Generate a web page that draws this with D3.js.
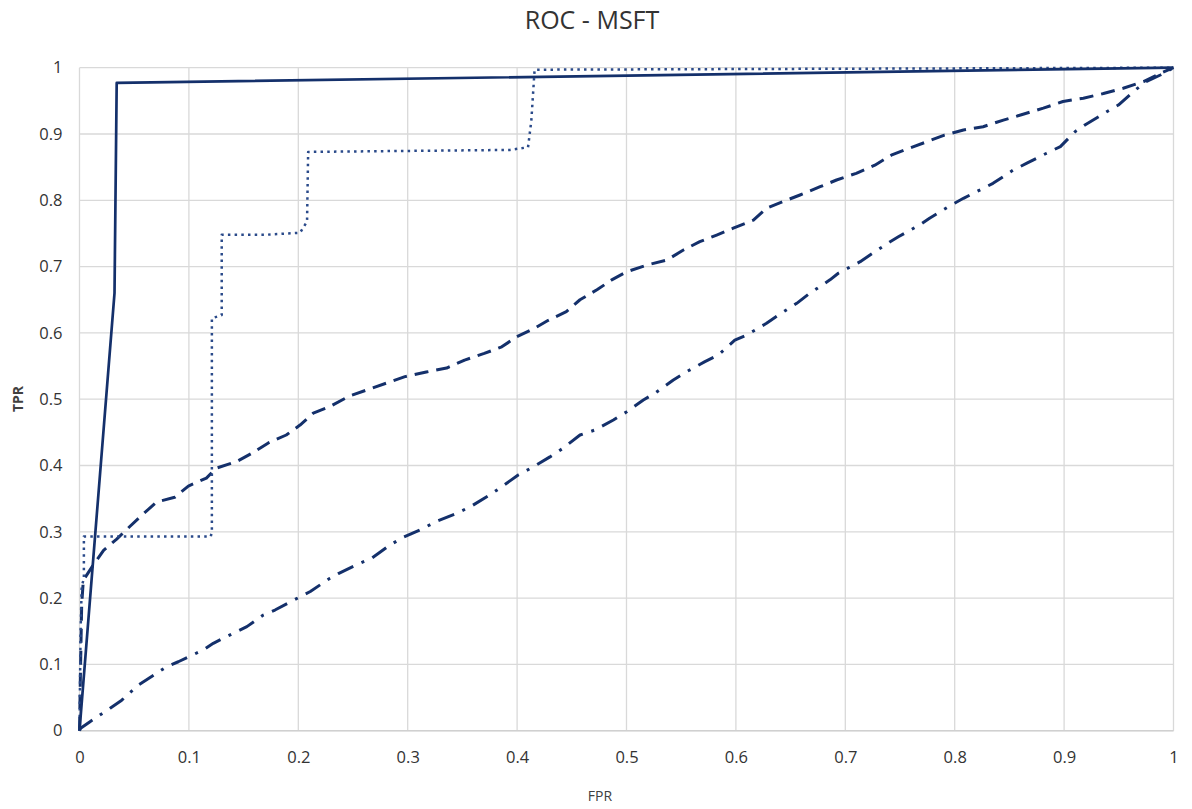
<!DOCTYPE html>
<html>
<head>
<meta charset="utf-8">
<script src="https://cdn.jsdelivr.net/npm/d3@7"></script>
<style>
  body { margin: 0; background: #fff; }
  svg { font-family: "Open Sans", "Liberation Sans", sans-serif; }
  .grid line { stroke: #d9d9d9; stroke-width: 1.3; }
</style>
</head>
<body>
<svg id="chart" width="1192" height="809"></svg>
<script>
// tick values for both axes
var ticks = [0, 0.1, 0.2, 0.3, 0.4, 0.5, 0.6, 0.7, 0.8, 0.9, 1];

// series 1 (solid)
var solidFpr = [0, 0.032, 0.034, 1];
var solidTpr = [0, 0.66, 0.977, 1];

// series 2 (dotted)
var dotFpr = [0, 0.001, 0.002, 0.004, 0.004, 0.12, 0.121, 0.121, 0.130, 0.130, 0.17, 0.2016, 0.208, 0.209, 0.3935, 0.41, 0.413, 0.416, 1];
var dotTpr = [0, 0.15, 0.217, 0.23, 0.293, 0.293, 0.30, 0.622, 0.627, 0.748, 0.748, 0.751, 0.768, 0.873, 0.876, 0.88, 0.92, 0.997, 1];

// series 3 (dashed)
var dashFpr = [0, 0.001, 0.002, 0.0035, 0.0126, 0.022, 0.034, 0.046, 0.057, 0.0705, 0.087, 0.0995, 0.116, 0.125, 0.1437, 0.157, 0.1726, 0.189, 0.2016, 0.2137, 0.229, 0.247, 0.2975, 0.317, 0.3356, 0.352, 0.37, 0.386, 0.3996, 0.416, 0.4285, 0.445, 0.4575, 0.473, 0.4865, 0.50, 0.518, 0.537, 0.552, 0.567, 0.5824, 0.5976, 0.616, 0.628, 0.643, 0.6586, 0.677, 0.692, 0.710, 0.727, 0.742, 0.7576, 0.774, 0.79, 0.808, 0.826, 0.8445, 0.861, 0.881, 0.899, 0.9176, 0.936, 0.954, 0.9726, 0.988, 1];
var dashTpr = [0, 0.10, 0.19, 0.227, 0.25, 0.272, 0.289, 0.308, 0.325, 0.345, 0.352, 0.369, 0.381, 0.396, 0.406, 0.418, 0.434, 0.446, 0.461, 0.479, 0.489, 0.505, 0.534, 0.541, 0.547, 0.559, 0.569, 0.579, 0.594, 0.607, 0.619, 0.632, 0.65, 0.665, 0.68, 0.692, 0.702, 0.71, 0.725, 0.7376, 0.7476, 0.758, 0.77, 0.788, 0.798, 0.808, 0.8205, 0.8306, 0.8407, 0.853, 0.868, 0.878, 0.888, 0.898, 0.906, 0.911, 0.921, 0.929, 0.939, 0.949, 0.954, 0.961, 0.969, 0.979, 0.9916, 1];

// series 4 (dash-dot)
var ddFpr = [0, 0.001, 0.0096, 0.028, 0.0386, 0.054, 0.0797, 0.0903, 0.113, 0.1223, 0.1406, 0.153, 0.168, 0.1787, 0.2016, 0.211, 0.229, 0.2366, 0.2564, 0.267, 0.2838, 0.296, 0.314, 0.3265, 0.345, 0.3585, 0.375, 0.386, 0.401, 0.415, 0.43, 0.442, 0.4575, 0.471, 0.488, 0.5002, 0.5154, 0.526, 0.5428, 0.555, 0.5717, 0.584, 0.599, 0.61, 0.628, 0.639, 0.6556, 0.6677, 0.686, 0.6936, 0.7136, 0.7226, 0.741, 0.7485, 0.768, 0.777, 0.797, 0.808, 0.826, 0.835, 0.8536, 0.866, 0.884, 0.8966, 0.91, 0.919, 0.939, 0.9496, 0.9648, 0.975, 0.988, 1];
var ddTpr = [0, 0.0036, 0.0136, 0.034, 0.046, 0.069, 0.0965, 0.104, 0.1217, 0.1318, 0.147, 0.157, 0.1745, 0.182, 0.202, 0.21, 0.23, 0.237, 0.2525, 0.26, 0.28, 0.2917, 0.305, 0.316, 0.328, 0.339, 0.3555, 0.368, 0.3857, 0.398, 0.413, 0.426, 0.446, 0.4535, 0.4686, 0.481, 0.4988, 0.509, 0.529, 0.5415, 0.5566, 0.5667, 0.589, 0.597, 0.6145, 0.627, 0.6446, 0.66, 0.68, 0.69, 0.7074, 0.7175, 0.7376, 0.745, 0.763, 0.773, 0.793, 0.803, 0.818, 0.8256, 0.8457, 0.856, 0.871, 0.881, 0.9035, 0.9136, 0.9336, 0.9437, 0.966, 0.979, 0.989, 1];

var svg = d3.select('#chart');
var margin = { top: 67.7, right: 18.5, bottom: 78.3, left: 79.5 };
var width = 1192, height = 809;
var innerW = width - margin.left - margin.right;
var innerH = height - margin.top - margin.bottom;

var x = d3.scaleLinear().domain([0, 1]).range([0, innerW]);
var y = d3.scaleLinear().domain([0, 1]).range([innerH, 0]);

var g = svg.append('g')
  .attr('transform', `translate(${margin.left},${margin.top})`);

// gridlines
g.append('g')
  .attr('class', 'grid')
  .selectAll('line.h')
  .data(ticks)
  .enter().append('line')
  .attr('x1', 0).attr('x2', innerW)
  .attr('y1', d => y(d)).attr('y2', d => y(d));
g.append('g')
  .attr('class', 'grid')
  .selectAll('line.v')
  .data(ticks)
  .enter().append('line')
  .attr('y1', 0).attr('y2', innerH)
  .attr('x1', d => x(d)).attr('x2', d => x(d));

// axes (labels only, Excel style)
var fmt = d => d === 0 ? '0' : d === 1 ? '1' : d3.format('.1f')(d);
var xAxis = g.append('g')
  .attr('transform', `translate(0,${innerH})`)
  .call(d3.axisBottom(x).tickValues(ticks).tickFormat(fmt).tickSize(0).tickPadding(21));
xAxis.select('.domain').remove();

var yAxis = g.append('g')
  .call(d3.axisLeft(y).tickValues(ticks).tickFormat(fmt).tickSize(0).tickPadding(17));
yAxis.select('.domain').remove();

[xAxis, yAxis].forEach(a => {
  a.attr('font-family', null).attr('font-size', null);
  a.selectAll('text')
    .style('font-size', '16.5px')
    .style('fill', '#333');
});

// bottom axis line
g.append('line')
  .attr('x1', 0).attr('x2', innerW)
  .attr('y1', innerH).attr('y2', innerH)
  .style('stroke', '#d0d0d0').style('stroke-width', 1.5);

var line = d3.line()
  .x(d => x(d[0]))
  .y(d => y(d[1]));

function pairs(xs, ys) {
  return xs.map((v, i) => [v, ys[i]]);
}

var series = [
  { data: pairs(ddFpr, ddTpr), color: '#14306b', width: 3, dash: '17,9,3,9' },
  { data: pairs(dashFpr, dashTpr), color: '#14306b', width: 3, dash: '14,8' },
  { data: pairs(dotFpr, dotTpr), color: '#2a4a8a', width: 2.5, dash: '2.5,4.2' },
  { data: pairs(solidFpr, solidTpr), color: '#14306b', width: 2.7, dash: null }
];

series.forEach(s => {
  g.append('path')
    .datum(s.data)
    .attr('d', line)
    .style('fill', 'none')
    .style('stroke', s.color)
    .style('stroke-width', s.width)
    .style('stroke-dasharray', s.dash)
    .style('stroke-linecap', 'butt')
    .style('stroke-linejoin', 'round');
});

// title and axis labels
svg.append('text')
  .attr('x', 592).attr('y', 29)
  .attr('text-anchor', 'middle')
  .style('font-size', '25px')
  .style('fill', '#333')
  .text('ROC - MSFT');

svg.append('text')
  .attr('x', 600).attr('y', 801)
  .attr('text-anchor', 'middle')
  .style('font-size', '14px')
  .style('fill', '#404040')
  .text('FPR');

svg.append('text')
  .attr('transform', 'translate(23,399) rotate(-90)')
  .attr('text-anchor', 'middle')
  .style('font-size', '14px')
  .style('font-weight', 'bold')
  .style('fill', '#404040')
  .text('TPR');
</script>
</body>
</html>
